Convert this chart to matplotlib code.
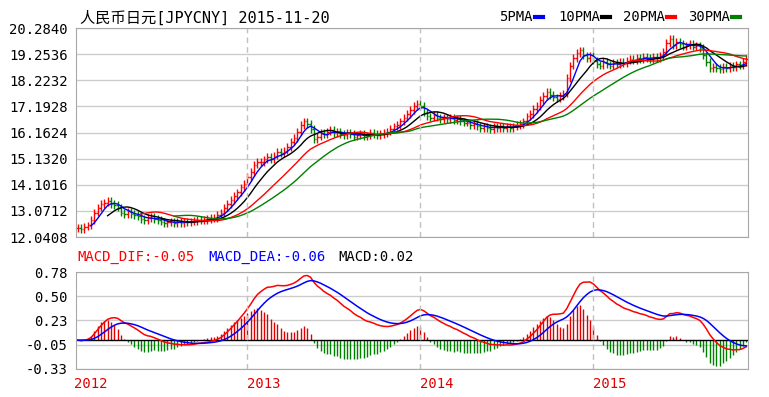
import numpy as np
import pandas as pd
import matplotlib
matplotlib.use("Agg")
import matplotlib.pyplot as plt
from matplotlib.lines import Line2D

plt.rcParams['font.family'] = ['DejaVu Sans Mono', 'Noto Sans CJK SC']

# weekly closes of CNY/JPY, 2012-01-13 .. 2015-11-20
close = [
    12.40, 12.35, 12.45, 12.50, 12.70, 13.00, 13.20, 13.35, 13.40, 13.45, 13.35, 13.30,
    13.20, 13.00, 12.95, 13.05, 12.95, 12.90, 12.85, 12.75, 12.70, 12.80, 12.85, 12.75,
    12.70, 12.65, 12.60, 12.62, 12.65, 12.60, 12.65, 12.60, 12.65, 12.62, 12.65, 12.68,
    12.72, 12.70, 12.72, 12.75, 12.80, 12.80, 12.90, 13.00, 13.20, 13.35, 13.50, 13.65,
    13.80, 14.00, 14.15, 14.40, 14.60, 14.90, 15.00, 15.00, 15.10, 15.20, 15.10, 15.25,
    15.40, 15.35, 15.45, 15.60, 15.80, 15.95, 16.20, 16.45, 16.60, 16.50, 16.30, 15.90,
    16.00, 16.15, 16.10, 16.20, 16.25, 16.15, 16.20, 16.10, 16.05, 16.15, 16.10, 16.00,
    16.05, 16.10, 16.00, 16.05, 16.15, 16.10, 16.05, 16.10, 16.15, 16.20, 16.30, 16.40,
    16.45, 16.60, 16.75, 16.90, 17.05, 17.20, 17.30, 17.20, 16.95, 16.80, 16.75, 16.85,
    16.75, 16.70, 16.75, 16.70, 16.75, 16.65, 16.70, 16.60, 16.55, 16.55, 16.45, 16.50,
    16.40, 16.35, 16.40, 16.35, 16.30, 16.40, 16.35, 16.40, 16.35, 16.40, 16.35, 16.40,
    16.45, 16.50, 16.60, 16.80, 16.90, 17.10, 17.20, 17.45, 17.60, 17.75, 17.65, 17.55,
    17.50, 17.60, 17.70, 18.30, 18.80, 19.10, 19.30, 19.40, 19.20, 19.10, 19.20, 19.00,
    18.85, 18.80, 18.95, 18.85, 18.80, 18.90, 18.85, 18.95, 18.90, 19.00, 19.05, 19.00,
    19.10, 19.05, 19.15, 19.10, 19.05, 19.15, 19.10, 19.20, 19.35, 19.70, 19.85, 19.60,
    19.75, 19.65, 19.55, 19.60, 19.65, 19.55, 19.60, 19.50, 19.20, 18.95, 18.70, 18.75,
    18.70, 18.65, 18.75, 18.70, 18.80, 18.75, 18.85, 18.80, 18.95, 19.05,
]
price_ticks = ["12.0408", "13.0712", "14.1016", "15.1320", "16.1624",
               "17.1928", "18.2232", "19.2536", "20.2840"]
macd_ticks = ["-0.33", "-0.05", "0.23", "0.50", "0.78"]
ma_windows = [5, 10, 20, 30]
ma_names = ["5PMA", "10PMA", "20PMA", "30PMA"]
ma_colors = ["#0000ff", "#000000", "#ff0000", "#008000"]

dates = pd.date_range(end="2015-11-20", periods=len(close), freq="W-FRI")
df = pd.DataFrame({"close": close}, index=dates)
df["open"] = df["close"].shift(1).fillna(df["close"])
x = np.arange(len(df))

W, H = 769, 397
fig = plt.figure(figsize=(W / 100, H / 100), dpi=100)
ax = fig.add_axes([76 / W, 1 - 237 / H, 672 / W, 209 / H])
ax2 = fig.add_axes([76 / W, 1 - 369 / H, 672 / W, 97 / H])

# OHLC bars (red up, green down)
up = df["close"] >= df["open"]
cols = np.where(up, "#ff0000", "#008000")
top = np.maximum(df["open"], df["close"]) + 0.15
bot = np.minimum(df["open"], df["close"]) - 0.15
ax.vlines(x, bot, top, colors=cols, lw=1)
ax.hlines(df["open"], x - 0.45, x, colors=cols, lw=1)
ax.hlines(df["close"], x, x + 0.45, colors=cols, lw=1)

for w, c in zip(ma_windows, ma_colors):
    ax.plot(x, df["close"].rolling(w).mean(), color=c, lw=1)

# MACD
ema12 = df["close"].ewm(span=12, adjust=False).mean()
ema26 = df["close"].ewm(span=26, adjust=False).mean()
dif = ema12 - ema26
dea = dif.ewm(span=9, adjust=False).mean()
macd = 2 * (dif - dea)
ax2.vlines(x, 0, macd, colors=np.where(macd >= 0, "#e00000", "#008000"), lw=1)
ax2.axhline(0, color="black", lw=1)
ax2.plot(x, dif, color="#ff0000", lw=1.1)
ax2.plot(x, dea, color="#0000ff", lw=1.1)

# year boundaries
year_starts = [i for i in range(1, len(dates)) if dates[i].year != dates[i - 1].year]
for a in (ax, ax2):
    a.set_xlim(-0.5, len(df) - 0.5)
    a.set_xticks([])
    for i in year_starts:
        a.axvline(i, color="#c0c0c0", ls=(0, (4, 3)), lw=1)
    for s in a.spines.values():
        s.set_color("#a8a8a8")
    a.tick_params(axis="y", length=0, pad=6, labelsize=10)
    a.grid(axis="y", color="#cccccc", lw=1)
    a.set_axisbelow(True)

ax.set_ylim(float(price_ticks[0]), float(price_ticks[-1]))
ax.set_yticks([float(t) for t in price_ticks], price_ticks)
ax2.set_ylim(float(macd_ticks[0]), float(macd_ticks[-1]))
ax2.set_yticks([float(t) for t in macd_ticks], macd_ticks)

for i, lab in zip([-1] + year_starts, ["2012", "2013", "2014", "2015"]):
    ax2.text(i, -0.15, lab, transform=ax2.get_xaxis_transform(), color="#e00000",
             fontsize=10, ha="left", va="center")

fig.text(80 / W, 1 - 18 / H, "人民币日元[JPYCNY] 2015-11-20", fontsize=11,
         va="center", ha="left")

legend_x = [499, 558, 623, 688]
for lx, name, c in zip(legend_x, ma_names, ma_colors):
    fig.text(lx / W, 1 - 17 / H, name, fontsize=10, va="center", ha="left")
    x0 = lx + len(name) * 8.4 + 2
    fig.add_artist(Line2D([x0 / W, (x0 + 8) / W], [1 - 17 / H] * 2, color=c,
                          lw=3, transform=fig.transFigure))

fig.text(77 / W, 1 - 257 / H, "MACD_DIF:-0.05", color="#ff0000", fontsize=10, va="center")
fig.text(208 / W, 1 - 257 / H, "MACD_DEA:-0.06", color="#0000ff", fontsize=10, va="center")
fig.text(338 / W, 1 - 257 / H, "MACD:0.02", color="black", fontsize=10, va="center")

fig.savefig("out.png", dpi=100, facecolor="white")
